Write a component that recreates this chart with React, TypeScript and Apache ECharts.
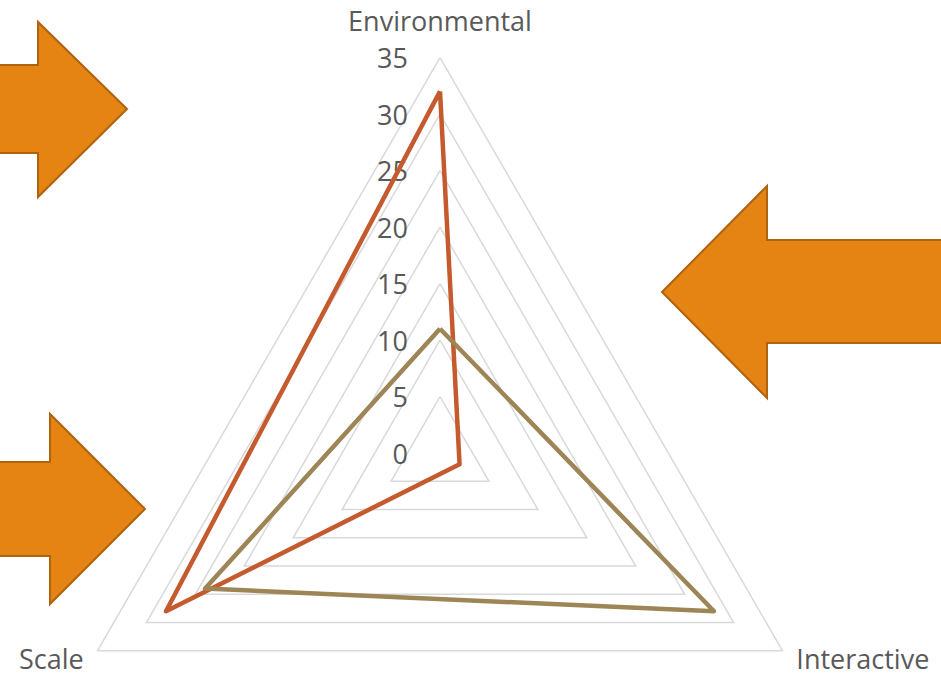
import React, { useEffect, useRef } from "react";
import * as echarts from "echarts";

const indicatorNames = ["Environmental", "Scale", "Interactive"];
const axisMax = 35;
const splitCount = 7;
const seriesA = [32, 28, 2];
const seriesB = [11, 24, 28];

const FONT = "'Open Sans', sans-serif";
const ARROW_FILL = "#E58313";
const ARROW_STROKE = "#AE630F";

export default function App() {
  const ref = useRef<HTMLDivElement>(null);
  useEffect(() => {
    document.body.style.margin = "0";
    const chart = echarts.init(ref.current!, null, { renderer: "svg" });
    chart.setOption({
      animation: false,
      backgroundColor: "#ffffff",
      radar: {
        center: [440, 453],
        radius: 395.5,
        startAngle: 90,
        shape: "polygon",
        splitNumber: splitCount,
        nameGap: 16,
        axisName: {
          color: "#595959",
          fontSize: 27,
          fontFamily: FONT,
          padding: [0, 0, 8, 0],
        },
        indicator: indicatorNames.map((n, i) => ({
          name: n,
          min: 0,
          max: axisMax,
          axisLabel: { show: i === 0 },
        })),
        axisLine: { show: false },
        axisTick: { show: false },
        axisLabel: {
          show: false,
          color: "#595959",
          fontSize: 27,
          fontFamily: FONT,
          margin: 32,
        },
        splitLine: { lineStyle: { color: "#D9D9D9", width: 1.5 } },
        splitArea: { show: false },
      },
      series: [
        {
          type: "radar",
          symbol: "none",
          data: [
            { value: seriesA, name: "A", lineStyle: { color: "#C45A2D", width: 4.5 } },
            { value: seriesB, name: "B", lineStyle: { color: "#9D8556", width: 4.5 } },
          ],
        },
      ],
      graphic: [
        {
          type: "polygon",
          shape: { points: [[-5, 65], [38, 65], [38, 22], [127, 109], [38, 197], [38, 153], [-5, 153]] },
          style: { fill: ARROW_FILL, stroke: ARROW_STROKE, lineWidth: 2 },
        },
        {
          type: "polygon",
          shape: { points: [[946, 240], [767, 240], [767, 186], [662, 292], [767, 398], [767, 343], [946, 343]] },
          style: { fill: ARROW_FILL, stroke: ARROW_STROKE, lineWidth: 2 },
        },
        {
          type: "polygon",
          shape: { points: [[-5, 462], [50, 462], [50, 414], [145, 509], [50, 604], [50, 556], [-5, 556]] },
          style: { fill: ARROW_FILL, stroke: ARROW_STROKE, lineWidth: 2 },
        },
      ],
    });
    return () => chart.dispose();
  }, []);
  return <div ref={ref} style={{ width: 941, height: 673 }} />;
}
